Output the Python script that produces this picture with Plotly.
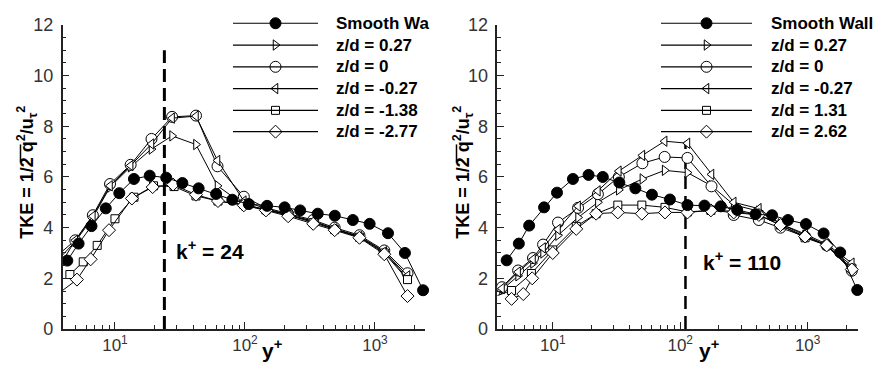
import math
import plotly.graph_objects as go

W, H = 883, 375

# ---------------- data ----------------
# Left panel (k+ = 24)
L_smooth_x = [4.3, 5.25, 6.6, 8.5, 10.8, 14, 18.5, 24.8, 33, 44, 60, 80, 107, 148, 202, 266, 363, 491, 676, 910, 1260, 1700, 2345]
L_smooth_y = [2.7, 3.37, 4.06, 4.76, 5.36, 5.92, 6.05, 5.97, 5.76, 5.55, 5.33, 5.1, 4.93, 4.86, 4.8, 4.68, 4.55, 4.47, 4.3, 4.15, 3.78, 3.0, 1.53]

L_common_x = [3.92, 4.95, 6.76, 9.16, 13.2, 19.1, 27.5, 42, 61.5, 98, 145, 215, 335, 490, 760, 1180, 1780]
L_p027_y = [2.9, 3.45, 4.4, 5.6, 6.4, 7.1, 7.62, 7.28, 5.65, 4.9, 4.72, 4.5, 4.25, 3.95, 3.65, 3.05, 2.0]
L_z0_y = [3.06, 3.5, 4.49, 5.72, 6.48, 7.5, 8.37, 8.42, 6.42, 5.22, 4.78, 4.55, 4.3, 4.0, 3.7, 3.1, 2.2]
L_m027_y = [2.65, 3.5, 4.45, 5.65, 6.45, 7.3, 8.32, 8.4, 6.65, 5.05, 4.75, 4.52, 4.25, 3.95, 3.65, 3.05, 2.1]
L_m138_x = [4.5, 5.7, 7.3, 10.0, 14.0, 19.8, 28.5, 42, 62, 98, 145, 215, 335, 490, 760, 1180, 1780]
L_m138_y = [2.15, 2.65, 3.3, 4.35, 5.2, 5.65, 5.62, 5.25, 5.05, 4.92, 4.7, 4.5, 4.2, 3.92, 3.62, 3.0, 1.95]
L_m277_x = [3.9, 5.1, 6.5, 9.0, 13.5, 19.5, 28, 42, 62, 98, 145, 215, 335, 490, 760, 1180, 1780]
L_m277_y = [1.5, 1.95, 2.75, 3.9, 5.15, 5.6, 5.7, 5.3, 5.05, 4.88, 4.68, 4.45, 4.15, 3.9, 3.6, 2.95, 1.3]

# Right panel (k+ = 110)
R_smooth_x = [4.35, 5.42, 6.53, 8.55, 10.8, 14.4, 19.1, 24.7, 33.3, 44.5, 60, 83, 114, 155, 208, 280, 390, 526, 701, 970, 1334, 1800, 2450]
R_smooth_y = [2.71, 3.37, 4.08, 4.8, 5.38, 5.92, 6.08, 6.0, 5.78, 5.55, 5.3, 5.11, 4.89, 4.87, 4.84, 4.7, 4.53, 4.49, 4.3, 4.14, 3.77, 3.02, 1.54]

R_common_x = [4.0, 5.35, 7.0, 8.4, 11.0, 15.8, 22.6, 33, 50.5, 75.5, 114, 176, 263, 414, 612, 955, 1410, 2220]
R_p027_y = [1.55, 2.1, 2.6, 3.0, 3.7, 4.4, 5.0, 5.49, 5.92, 6.26, 6.17, 5.65, 4.9, 4.65, 4.15, 3.7, 3.3, 2.5]
R_z0_y = [1.65, 2.31, 2.8, 3.33, 4.2, 4.78, 5.32, 6.0, 6.54, 6.79, 6.75, 5.63, 4.5, 4.3, 4.0, 3.65, 3.3, 2.3]
R_m027_y = [1.6, 2.25, 2.75, 3.2, 3.93, 4.85, 5.45, 6.23, 6.85, 7.41, 7.33, 6.1, 5.0, 4.75, 4.15, 3.75, 3.35, 2.6]
R_p131_x = [3.67, 4.75, 6.8, 10, 15.3, 21.9, 32.4, 50, 76, 114, 174, 263, 414, 612, 955, 1410, 2220]
R_p131_y = [1.32, 1.52, 2.19, 3.12, 4.05, 4.55, 4.89, 4.89, 4.8, 4.62, 4.68, 4.65, 4.5, 4.1, 3.6, 3.3, 2.4]
R_p262_x = [4.75, 5.87, 6.9, 10, 15.3, 21.9, 32.4, 50, 76, 114, 174, 263, 414, 612, 955, 1410, 2220]
R_p262_y = [1.19, 1.38, 2.0, 3.0, 3.95, 4.55, 4.6, 4.55, 4.6, 4.6, 4.68, 4.6, 4.5, 4.1, 3.65, 3.3, 2.35]

L_names = ["Smooth Wa", "z/d = 0.27", "z/d = 0", "z/d = -0.27", "z/d = -1.38", "z/d = -2.77"]
R_names = ["Smooth Wall", "z/d = 0.27", "z/d = 0", "z/d = -0.27", "z/d = 1.31", "z/d = 2.62"]

k_left, k_right = 24, 110
k_labels = ["k<sup>+</sup> = 24", "k<sup>+</sup> = 110"]
x_tickvals = [10, 100, 1000]
x_ticktext = ["10<sup>1</sup>", "10<sup>2</sup>", "10<sup>3</sup>"]
y_tickvals = [0, 2, 4, 6, 8, 10, 12]
y_title = "TKE = 1/2 q<sup>2</sup>/u<sub>τ</sub><sup>2</sup>"

# ---------------- styling ----------------
FONT = "Liberation Sans"
symbols = ["circle", "triangle-right", "circle", "triangle-left", "square", "diamond"]
msizes = [11, 9, 11, 9, 8, 10]

def px(x):
    return x / W

def py(y):
    return 1 - y / H

fig = go.Figure()

def add_series(xs, ys, idx, xa, ya):
    filled = idx == 0
    fig.add_trace(go.Scatter(
        x=xs, y=ys, mode="lines+markers", xaxis=xa, yaxis=ya, showlegend=False,
        line=dict(color="black", width=1),
        marker=dict(symbol=symbols[idx], size=msizes[idx],
                    color="black" if filled else "white",
                    line=dict(color="black", width=1)),
        cliponaxis=False,
    ))

left_sets = [(L_smooth_x, L_smooth_y), (L_common_x, L_p027_y), (L_common_x, L_z0_y),
             (L_common_x, L_m027_y), (L_m138_x, L_m138_y), (L_m277_x, L_m277_y)]
right_sets = [(R_smooth_x, R_smooth_y), (R_common_x, R_p027_y), (R_common_x, R_z0_y),
              (R_common_x, R_m027_y), (R_p131_x, R_p131_y), (R_p262_x, R_p262_y)]

# dashed k+ lines
fig.add_trace(go.Scatter(x=[k_left, k_left], y=[0, 11.0], mode="lines", xaxis="x", yaxis="y",
                         showlegend=False, line=dict(color="black", width=3, dash="13px,6px")))
fig.add_trace(go.Scatter(x=[k_right, k_right], y=[0, 7.4], mode="lines", xaxis="x2", yaxis="y2",
                         showlegend=False, line=dict(color="black", width=2.5, dash="13px,7px")))

for i in [1, 2, 3, 4, 5, 0]:
    add_series(*left_sets[i], i, "x", "y")
    add_series(*right_sets[i], i, "x2", "y2")

# ---------------- custom legends ----------------
rows = [14, 37, 60, 83, 106, 128.5]
legs = [(233, 318, 334, L_names), (661, 752, 769, R_names)]
shapes = []
annotations = []
for (x0, x1, xt, names) in legs:
    for i, r in enumerate(rows):
        shapes.append(dict(type="line", xref="paper", yref="paper", x0=px(x0), x1=px(x1),
                           y0=py(r), y1=py(r), line=dict(color="black", width=1.2)))
        fig.add_trace(go.Scatter(
            x=[px((x0 + x1) / 2)], y=[py(r)], mode="markers", xaxis="x3", yaxis="y3",
            showlegend=False,
            marker=dict(symbol=symbols[i], size=msizes[i],
                        color="black" if i == 0 else "white",
                        line=dict(color="black", width=1)),
            cliponaxis=False))
        annotations.append(dict(text=names[i], xref="paper", yref="paper", x=px(xt), y=py(r),
                                xanchor="left", yanchor="middle", showarrow=False,
                                font=dict(family=FONT, size=17, color="black", weight="bold")))

# axis titles and labels
for xc in [27, 463]:
    annotations.append(dict(text=y_title, xref="paper", yref="paper", x=px(xc), y=py(172),
                            textangle=-90, showarrow=False, xanchor="center", yanchor="middle",
                            font=dict(family=FONT, size=18, color="black", weight="bold")))
    # overline over q^2
    shapes.append(dict(type="line", xref="paper", yref="paper", x0=px(xc - 6.5), x1=px(xc - 6.5),
                       y0=py(142), y1=py(161), line=dict(color="black", width=1.5)))
for xc in [272, 709]:
    annotations.append(dict(text="y<sup>+</sup>", xref="paper", yref="paper", x=px(xc), y=py(358),
                            showarrow=False, xanchor="center", yanchor="middle",
                            font=dict(family=FONT, size=21, color="black", weight="bold")))

annotations.append(dict(text=k_labels[0], xref="x", yref="y", x=math.log10(k_left) + 0.075, y=3.13,
                        xanchor="left", yanchor="middle", showarrow=False,
                        font=dict(family=FONT, size=21, color="black", weight="bold")))
annotations.append(dict(text=k_labels[1], xref="x2", yref="y2", x=math.log10(k_right) + 0.125, y=2.7,
                        xanchor="left", yanchor="middle", showarrow=False,
                        font=dict(family=FONT, size=21, color="black", weight="bold")))

minor_vals = [k * 10 ** d for d in range(0, 4) for k in range(2, 10)]

def xaxis_cfg(domain, rng):
    return dict(type="log", domain=domain, range=rng, tickmode="array", tickvals=x_tickvals,
                ticktext=x_ticktext, ticks="inside", ticklen=7, tickwidth=1.2, tickcolor="#222",
                showline=True, linecolor="#222", linewidth=1.5, showgrid=False, zeroline=False,
                tickfont=dict(family=FONT, size=17, color="#333"),
                minor=dict(tickmode="array", tickvals=minor_vals, ticks="inside", ticklen=4,
                           tickwidth=1, tickcolor="#222", showgrid=False))

def yaxis_cfg(domain, anchor):
    return dict(domain=domain, range=[0, 12], tickmode="array", tickvals=y_tickvals, anchor=anchor,
                ticks="inside", ticklen=7, tickwidth=1.2, tickcolor="#222",
                showline=True, linecolor="#222", linewidth=1.5, showgrid=False, zeroline=False,
                tickfont=dict(family=FONT, size=18, color="#333"), ticklabelstandoff=4,
                minor=dict(dtick=0.5, ticks="inside", ticklen=4, tickwidth=1, tickcolor="#222",
                           showgrid=False))

ydom = [py(337), py(15.7)]
fig.update_layout(
    width=W, height=H, margin=dict(l=0, r=0, t=0, b=0),
    paper_bgcolor="white", plot_bgcolor="rgba(0,0,0,0)",
    xaxis=xaxis_cfg([px(62.7), px(425)], [0.598, 3.385]) | dict(anchor="y"),
    yaxis=yaxis_cfg(ydom, "x"),
    xaxis2=xaxis_cfg([px(497.3), px(858)], [0.565, 3.395]) | dict(anchor="y2"),
    yaxis2=yaxis_cfg(ydom, "x2"),
    xaxis3=dict(domain=[0, 1], range=[0, 1], visible=False, anchor="y3"),
    yaxis3=dict(domain=[0, 1], range=[0, 1], visible=False, anchor="x3"),
    shapes=shapes, annotations=annotations, showlegend=False,
)

fig.write_html("out.html")
